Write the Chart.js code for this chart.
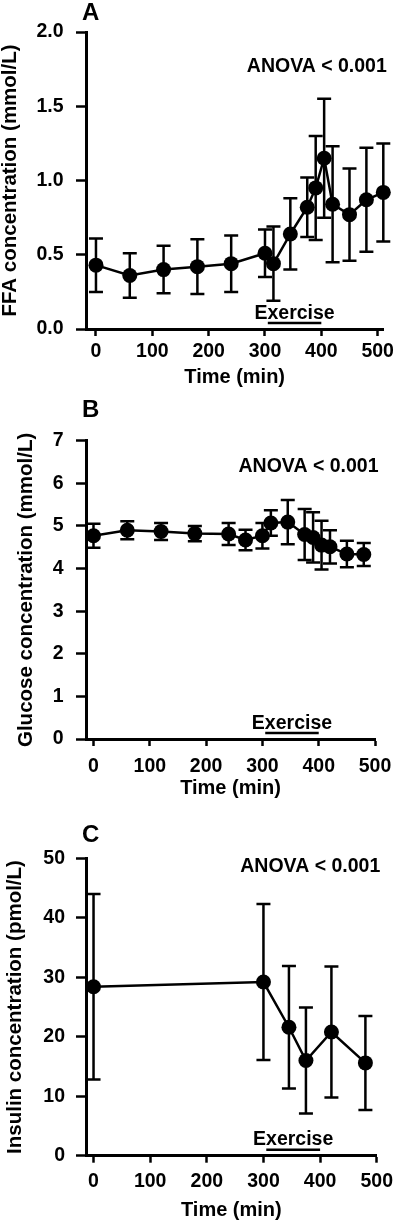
<!DOCTYPE html>
<html>
<head>
<meta charset="utf-8">
<script src="https://cdn.jsdelivr.net/npm/chart.js@4.4.1/dist/chart.umd.min.js"></script>
<style>
  body { margin: 0; background: #fff; }
  #wrap { position: relative; width: 400px; height: 1223px; }
  canvas { position: absolute; left: 0; }
</style>
</head>
<body>
<div id="wrap">
  <canvas id="chartFFA" width="400" height="395" style="top:0px"></canvas>
  <canvas id="chartGlucose" width="400" height="420" style="top:395px"></canvas>
  <canvas id="chartInsulin" width="400" height="408" style="top:815px"></canvas>
</div>
<script>
// A - FFA (mmol/L)
const ffaTimes = [0, 60, 120, 180, 240, 300, 315, 345, 375, 390, 405, 420, 450, 480, 510];
const ffaMeans = [0.43, 0.36, 0.40, 0.42, 0.44, 0.51, 0.44, 0.64, 0.82, 0.95, 1.15, 0.84, 0.77, 0.87, 0.92];
const ffaErrors = [0.18, 0.15, 0.16, 0.185, 0.19, 0.16, 0.25, 0.24, 0.20, 0.35, 0.40, 0.39, 0.31, 0.35, 0.33];
const ffaTicks = [0, 0.5, 1.0, 1.5, 2.0];

// B - Glucose (mmol/L)
const glucoseTimes = [0, 60, 120, 180, 240, 270, 300, 315, 345, 375, 390, 405, 420, 450, 480];
const glucoseMeans = [4.77, 4.90, 4.87, 4.82, 4.81, 4.67, 4.77, 5.07, 5.09, 4.80, 4.73, 4.55, 4.51, 4.34, 4.33];
const glucoseErrors = [0.28, 0.21, 0.20, 0.18, 0.26, 0.24, 0.30, 0.30, 0.52, 0.60, 0.59, 0.57, 0.39, 0.31, 0.27];
const glucoseTicks = [0, 1, 2, 3, 4, 5, 6, 7];

// C - Insulin (pmol/L)
const insulinTimes = [0, 300, 345, 375, 420, 480];
const insulinMeans = [28.4, 29.2, 21.6, 16.0, 20.8, 15.6];
const insulinErrors = [15.6, 13.1, 10.3, 8.9, 11.0, 7.9];
const insulinTicks = [0, 10, 20, 30, 40, 50];

const timeTicks = [0, 100, 200, 300, 400, 500];
const exerciseWindow = [305, 400];

const FONT = '"Liberation Sans", Arial, sans-serif';

// whiskers with caps, drawn under the dots
const errorBars = {
    id: 'errorBars',
    beforeDatasetsDraw(chart) {
        const ctx = chart.ctx;
        const ys = chart.scales.y;
        chart.data.datasets.forEach((ds, i) => {
            if (!ds.errors) return;
            const meta = chart.getDatasetMeta(i);
            ctx.save();
            ctx.strokeStyle = '#000';
            ctx.lineWidth = 2.5;
            meta.data.forEach((pt, j) => {
                const v = ds.data[j].y, e = ds.errors[j];
                const top = ys.getPixelForValue(v + e);
                const bot = ys.getPixelForValue(v - e);
                ctx.beginPath();
                ctx.moveTo(pt.x, top); ctx.lineTo(pt.x, bot);
                ctx.moveTo(pt.x - 7, top); ctx.lineTo(pt.x + 7, top);
                ctx.moveTo(pt.x - 7, bot); ctx.lineTo(pt.x + 7, bot);
                ctx.stroke();
            });
            ctx.restore();
        });
    }
};

// panel letter, ANOVA note and the exercise bar
const annotations = {
    id: 'annotations',
    afterDraw(chart, args, opts) {
        const ctx = chart.ctx;
        const area = chart.chartArea;
        const xs = chart.scales.x;
        ctx.save();
        ctx.fillStyle = '#000';
        ctx.strokeStyle = '#000';

        ctx.font = 'bold 24px ' + FONT;
        ctx.textAlign = 'left';
        ctx.textBaseline = 'alphabetic';
        ctx.fillText(opts.letter, 82, opts.letterY);

        ctx.font = 'bold 19.5px ' + FONT;
        ctx.textAlign = 'right';
        ctx.fillText('ANOVA < 0.001', area.right + 3.5, area.top + opts.anovaY);

        const x0 = xs.getPixelForValue(exerciseWindow[0]);
        const x1 = xs.getPixelForValue(exerciseWindow[1]);
        ctx.textAlign = 'center';
        ctx.fillText('Exercise', (x0 + x1) / 2, area.bottom - 10.5);
        ctx.lineWidth = 2.5;
        ctx.beginPath();
        ctx.moveTo(x0, area.bottom - 6);
        ctx.lineTo(x1, area.bottom - 6);
        ctx.stroke();
        ctx.restore();
    }
};

function makePanel(id, p) {
    const canvas = document.getElementById(id);
    return new Chart(canvas, {
        type: 'line',
        data: {
            datasets: [{
                data: p.times.map((t, i) => ({ x: t, y: p.means[i] })),
                errors: p.errors,
                borderColor: '#000',
                borderWidth: 2.5,
                backgroundColor: '#000',
                pointRadius: 7.5,
                pointBorderWidth: 0,
                pointBackgroundColor: '#000',
                tension: 0,
                clip: false
            }]
        },
        options: {
            responsive: false,
            animation: false,
            events: [],
            layout: { padding: p.padding },
            plugins: {
                legend: { display: false },
                tooltip: { enabled: false },
                annotations: { letter: p.letter, letterY: p.letterY, anovaY: p.anovaY }
            },
            scales: {
                x: {
                    type: 'linear',
                    min: p.xMin,
                    max: p.xMax,
                    afterBuildTicks: s => { s.ticks = timeTicks.map(v => ({ value: v })); },
                    afterFit: s => { s.height = p.xAxisH; },
                    grid: { display: true, drawOnChartArea: false, drawTicks: true, tickLength: 7, tickWidth: 2.5, tickColor: '#000' },
                    border: { display: true, color: '#000', width: 3 },
                    ticks: { autoSkip: false, maxRotation: 0, padding: p.xTickPad, color: '#000', font: { family: FONT, size: 19.5, weight: 'bold' } },
                    title: { display: true, text: 'Time (min)', color: '#000', padding: 0, font: { family: FONT, size: 20, weight: 'bold', lineHeight: 1.2 } }
                },
                y: {
                    min: 0,
                    max: p.yTicks[p.yTicks.length - 1],
                    afterBuildTicks: s => { s.ticks = p.yTicks.map(v => ({ value: v })); },
                    afterFit: s => { s.width = 86; },
                    grid: { display: true, drawOnChartArea: false, drawTicks: true, tickLength: 10, tickWidth: 2.5, tickColor: '#000' },
                    border: { display: true, color: '#000', width: 3 },
                    ticks: { autoSkip: false, padding: p.yTickPad, color: '#000', font: { family: FONT, size: 19.5, weight: 'bold' }, callback: p.fmt },
                    title: { display: true, text: p.yTitle, color: '#000', padding: { top: p.yTitlePad, bottom: 0 }, font: { family: FONT, size: 20.5, weight: 'bold', lineHeight: 1 } }
                }
            }
        },
        plugins: [errorBars, annotations]
    });
}

makePanel('chartFFA', {
    times: ffaTimes, means: ffaMeans, errors: ffaErrors, yTicks: ffaTicks,
    fmt: v => v.toFixed(1),
    yTitle: 'FFA concentration (mmol/L)',
    xMin: -17.7, xMax: 510,
    padding: { top: 32, right: 16.7, bottom: 6, left: 0 },
    xAxisH: 60, xTickPad: 3.7, yTickPad: 12.5, yTitlePad: 0,
    letter: 'A', letterY: 20, anovaY: 40
});

makePanel('chartGlucose', {
    times: glucoseTimes, means: glucoseMeans, errors: glucoseErrors, yTicks: glucoseTicks,
    fmt: v => String(v),
    yTitle: 'Glucose concentration (mmol/L)',
    xMin: -13.3, xMax: 500,
    padding: { top: 45.7, right: 16.7, bottom: 14.2, left: 0 },
    xAxisH: 61.8, xTickPad: 8.7, yTickPad: 12.5, yTitlePad: 15.75,
    letter: 'B', letterY: 21.7, anovaY: 31
});

makePanel('chartInsulin', {
    times: insulinTimes, means: insulinMeans, errors: insulinErrors, yTicks: insulinTicks,
    fmt: v => String(v),
    yTitle: 'Insulin concentration (pmol/L)',
    xMin: -13.3, xMax: 500,
    padding: { top: 43.3, right: 16.7, bottom: 0.2, left: 0 },
    xAxisH: 67.1, xTickPad: 7, yTickPad: 11, yTitlePad: 5.5,
    letter: 'C', letterY: 26.5, anovaY: 13.4
});
</script>
</body>
</html>
